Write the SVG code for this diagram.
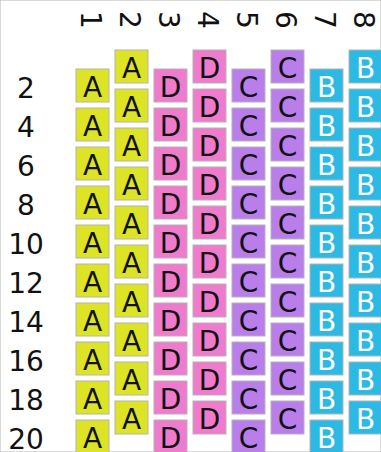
<svg xmlns="http://www.w3.org/2000/svg" width="381" height="452" viewBox="0 0 381 452">
<style>
rect{stroke:#b4b4b4;stroke-width:1}
text{font-family:"DejaVu Sans",Verdana,sans-serif;font-size:28px}
.n text{text-anchor:middle;fill:#111}
.A rect{fill:#dde325}
.D rect{fill:#ef7bcc}
.C rect{fill:#b97ee9}
.B rect{fill:#2cb9e3}
.B text{fill:#fff}
.lab{text-anchor:middle;fill:#111}
</style>
<rect x="0" y="0" width="381" height="452" fill="#fff" stroke="none"/>
<g id="collabels" class="lab">
<text transform="translate(80.5,20) rotate(90)">1</text>
<text transform="translate(119.5,20) rotate(90)">2</text>
<text transform="translate(158.5,20) rotate(90)">3</text>
<text transform="translate(197.5,20) rotate(90)">4</text>
<text transform="translate(236.5,20) rotate(90)">5</text>
<text transform="translate(275.5,20) rotate(90)">6</text>
<text transform="translate(314.5,20) rotate(90)">7</text>
<text transform="translate(353.5,20) rotate(90)">8</text>
</g>
<g id="rowlabels" class="lab">
<text x="26" y="97.5">2</text>
<text x="26" y="136.5">4</text>
<text x="26" y="175.5">6</text>
<text x="26" y="214.5">8</text>
<text x="26" y="253.5">10</text>
<text x="26" y="292.5">12</text>
<text x="26" y="331.5">14</text>
<text x="26" y="370.5">16</text>
<text x="26" y="409.5">18</text>
<text x="26" y="448.5">20</text>
</g>
<g id="col1">
<g id="c1r1" class="n A" transform="translate(76,69)"><rect width="33" height="33"/><text x="16.5" y="27.7">A</text></g>
<g id="c1r2" class="n A" transform="translate(76,108)"><rect width="33" height="33"/><text x="16.5" y="27.7">A</text></g>
<g id="c1r3" class="n A" transform="translate(76,147)"><rect width="33" height="33"/><text x="16.5" y="27.7">A</text></g>
<g id="c1r4" class="n A" transform="translate(76,186)"><rect width="33" height="33"/><text x="16.5" y="27.7">A</text></g>
<g id="c1r5" class="n A" transform="translate(76,225)"><rect width="33" height="33"/><text x="16.5" y="27.7">A</text></g>
<g id="c1r6" class="n A" transform="translate(76,264)"><rect width="33" height="33"/><text x="16.5" y="27.7">A</text></g>
<g id="c1r7" class="n A" transform="translate(76,303)"><rect width="33" height="33"/><text x="16.5" y="27.7">A</text></g>
<g id="c1r8" class="n A" transform="translate(76,342)"><rect width="33" height="33"/><text x="16.5" y="27.7">A</text></g>
<g id="c1r9" class="n A" transform="translate(76,381)"><rect width="33" height="33"/><text x="16.5" y="27.7">A</text></g>
<g id="c1r10" class="n A" transform="translate(76,420)"><rect width="33" height="33"/><text x="16.5" y="27.7">A</text></g>
</g>
<g id="col2">
<g id="c2r1" class="n A" transform="translate(115,50)"><rect width="33" height="33"/><text x="16.5" y="27.7">A</text></g>
<g id="c2r2" class="n A" transform="translate(115,89)"><rect width="33" height="33"/><text x="16.5" y="27.7">A</text></g>
<g id="c2r3" class="n A" transform="translate(115,128)"><rect width="33" height="33"/><text x="16.5" y="27.7">A</text></g>
<g id="c2r4" class="n A" transform="translate(115,167)"><rect width="33" height="33"/><text x="16.5" y="27.7">A</text></g>
<g id="c2r5" class="n A" transform="translate(115,206)"><rect width="33" height="33"/><text x="16.5" y="27.7">A</text></g>
<g id="c2r6" class="n A" transform="translate(115,245)"><rect width="33" height="33"/><text x="16.5" y="27.7">A</text></g>
<g id="c2r7" class="n A" transform="translate(115,284)"><rect width="33" height="33"/><text x="16.5" y="27.7">A</text></g>
<g id="c2r8" class="n A" transform="translate(115,323)"><rect width="33" height="33"/><text x="16.5" y="27.7">A</text></g>
<g id="c2r9" class="n A" transform="translate(115,362)"><rect width="33" height="33"/><text x="16.5" y="27.7">A</text></g>
<g id="c2r10" class="n A" transform="translate(115,401)"><rect width="33" height="33"/><text x="16.5" y="27.7">A</text></g>
</g>
<g id="col3">
<g id="c3r1" class="n D" transform="translate(154,69)"><rect width="33" height="33"/><text x="16.5" y="27.7">D</text></g>
<g id="c3r2" class="n D" transform="translate(154,108)"><rect width="33" height="33"/><text x="16.5" y="27.7">D</text></g>
<g id="c3r3" class="n D" transform="translate(154,147)"><rect width="33" height="33"/><text x="16.5" y="27.7">D</text></g>
<g id="c3r4" class="n D" transform="translate(154,186)"><rect width="33" height="33"/><text x="16.5" y="27.7">D</text></g>
<g id="c3r5" class="n D" transform="translate(154,225)"><rect width="33" height="33"/><text x="16.5" y="27.7">D</text></g>
<g id="c3r6" class="n D" transform="translate(154,264)"><rect width="33" height="33"/><text x="16.5" y="27.7">D</text></g>
<g id="c3r7" class="n D" transform="translate(154,303)"><rect width="33" height="33"/><text x="16.5" y="27.7">D</text></g>
<g id="c3r8" class="n D" transform="translate(154,342)"><rect width="33" height="33"/><text x="16.5" y="27.7">D</text></g>
<g id="c3r9" class="n D" transform="translate(154,381)"><rect width="33" height="33"/><text x="16.5" y="27.7">D</text></g>
<g id="c3r10" class="n D" transform="translate(154,420)"><rect width="33" height="33"/><text x="16.5" y="27.7">D</text></g>
</g>
<g id="col4">
<g id="c4r1" class="n D" transform="translate(193,50)"><rect width="33" height="33"/><text x="16.5" y="27.7">D</text></g>
<g id="c4r2" class="n D" transform="translate(193,89)"><rect width="33" height="33"/><text x="16.5" y="27.7">D</text></g>
<g id="c4r3" class="n D" transform="translate(193,128)"><rect width="33" height="33"/><text x="16.5" y="27.7">D</text></g>
<g id="c4r4" class="n D" transform="translate(193,167)"><rect width="33" height="33"/><text x="16.5" y="27.7">D</text></g>
<g id="c4r5" class="n D" transform="translate(193,206)"><rect width="33" height="33"/><text x="16.5" y="27.7">D</text></g>
<g id="c4r6" class="n D" transform="translate(193,245)"><rect width="33" height="33"/><text x="16.5" y="27.7">D</text></g>
<g id="c4r7" class="n D" transform="translate(193,284)"><rect width="33" height="33"/><text x="16.5" y="27.7">D</text></g>
<g id="c4r8" class="n D" transform="translate(193,323)"><rect width="33" height="33"/><text x="16.5" y="27.7">D</text></g>
<g id="c4r9" class="n D" transform="translate(193,362)"><rect width="33" height="33"/><text x="16.5" y="27.7">D</text></g>
<g id="c4r10" class="n D" transform="translate(193,401)"><rect width="33" height="33"/><text x="16.5" y="27.7">D</text></g>
</g>
<g id="col5">
<g id="c5r1" class="n C" transform="translate(232,69)"><rect width="33" height="33"/><text x="16.5" y="27.7">C</text></g>
<g id="c5r2" class="n C" transform="translate(232,108)"><rect width="33" height="33"/><text x="16.5" y="27.7">C</text></g>
<g id="c5r3" class="n C" transform="translate(232,147)"><rect width="33" height="33"/><text x="16.5" y="27.7">C</text></g>
<g id="c5r4" class="n C" transform="translate(232,186)"><rect width="33" height="33"/><text x="16.5" y="27.7">C</text></g>
<g id="c5r5" class="n C" transform="translate(232,225)"><rect width="33" height="33"/><text x="16.5" y="27.7">C</text></g>
<g id="c5r6" class="n C" transform="translate(232,264)"><rect width="33" height="33"/><text x="16.5" y="27.7">C</text></g>
<g id="c5r7" class="n C" transform="translate(232,303)"><rect width="33" height="33"/><text x="16.5" y="27.7">C</text></g>
<g id="c5r8" class="n C" transform="translate(232,342)"><rect width="33" height="33"/><text x="16.5" y="27.7">C</text></g>
<g id="c5r9" class="n C" transform="translate(232,381)"><rect width="33" height="33"/><text x="16.5" y="27.7">C</text></g>
<g id="c5r10" class="n C" transform="translate(232,420)"><rect width="33" height="33"/><text x="16.5" y="27.7">C</text></g>
</g>
<g id="col6">
<g id="c6r1" class="n C" transform="translate(271,50)"><rect width="33" height="33"/><text x="16.5" y="27.7">C</text></g>
<g id="c6r2" class="n C" transform="translate(271,89)"><rect width="33" height="33"/><text x="16.5" y="27.7">C</text></g>
<g id="c6r3" class="n C" transform="translate(271,128)"><rect width="33" height="33"/><text x="16.5" y="27.7">C</text></g>
<g id="c6r4" class="n C" transform="translate(271,167)"><rect width="33" height="33"/><text x="16.5" y="27.7">C</text></g>
<g id="c6r5" class="n C" transform="translate(271,206)"><rect width="33" height="33"/><text x="16.5" y="27.7">C</text></g>
<g id="c6r6" class="n C" transform="translate(271,245)"><rect width="33" height="33"/><text x="16.5" y="27.7">C</text></g>
<g id="c6r7" class="n C" transform="translate(271,284)"><rect width="33" height="33"/><text x="16.5" y="27.7">C</text></g>
<g id="c6r8" class="n C" transform="translate(271,323)"><rect width="33" height="33"/><text x="16.5" y="27.7">C</text></g>
<g id="c6r9" class="n C" transform="translate(271,362)"><rect width="33" height="33"/><text x="16.5" y="27.7">C</text></g>
<g id="c6r10" class="n C" transform="translate(271,401)"><rect width="33" height="33"/><text x="16.5" y="27.7">C</text></g>
</g>
<g id="col7">
<g id="c7r1" class="n B" transform="translate(310,69)"><rect width="33" height="33"/><text x="16.5" y="27.7">B</text></g>
<g id="c7r2" class="n B" transform="translate(310,108)"><rect width="33" height="33"/><text x="16.5" y="27.7">B</text></g>
<g id="c7r3" class="n B" transform="translate(310,147)"><rect width="33" height="33"/><text x="16.5" y="27.7">B</text></g>
<g id="c7r4" class="n B" transform="translate(310,186)"><rect width="33" height="33"/><text x="16.5" y="27.7">B</text></g>
<g id="c7r5" class="n B" transform="translate(310,225)"><rect width="33" height="33"/><text x="16.5" y="27.7">B</text></g>
<g id="c7r6" class="n B" transform="translate(310,264)"><rect width="33" height="33"/><text x="16.5" y="27.7">B</text></g>
<g id="c7r7" class="n B" transform="translate(310,303)"><rect width="33" height="33"/><text x="16.5" y="27.7">B</text></g>
<g id="c7r8" class="n B" transform="translate(310,342)"><rect width="33" height="33"/><text x="16.5" y="27.7">B</text></g>
<g id="c7r9" class="n B" transform="translate(310,381)"><rect width="33" height="33"/><text x="16.5" y="27.7">B</text></g>
<g id="c7r10" class="n B" transform="translate(310,420)"><rect width="33" height="33"/><text x="16.5" y="27.7">B</text></g>
</g>
<g id="col8">
<g id="c8r1" class="n B" transform="translate(349,50)"><rect width="33" height="33"/><text x="16.5" y="27.7">B</text></g>
<g id="c8r2" class="n B" transform="translate(349,89)"><rect width="33" height="33"/><text x="16.5" y="27.7">B</text></g>
<g id="c8r3" class="n B" transform="translate(349,128)"><rect width="33" height="33"/><text x="16.5" y="27.7">B</text></g>
<g id="c8r4" class="n B" transform="translate(349,167)"><rect width="33" height="33"/><text x="16.5" y="27.7">B</text></g>
<g id="c8r5" class="n B" transform="translate(349,206)"><rect width="33" height="33"/><text x="16.5" y="27.7">B</text></g>
<g id="c8r6" class="n B" transform="translate(349,245)"><rect width="33" height="33"/><text x="16.5" y="27.7">B</text></g>
<g id="c8r7" class="n B" transform="translate(349,284)"><rect width="33" height="33"/><text x="16.5" y="27.7">B</text></g>
<g id="c8r8" class="n B" transform="translate(349,323)"><rect width="33" height="33"/><text x="16.5" y="27.7">B</text></g>
<g id="c8r9" class="n B" transform="translate(349,362)"><rect width="33" height="33"/><text x="16.5" y="27.7">B</text></g>
<g id="c8r10" class="n B" transform="translate(349,401)"><rect width="33" height="33"/><text x="16.5" y="27.7">B</text></g>
</g>
</svg>
